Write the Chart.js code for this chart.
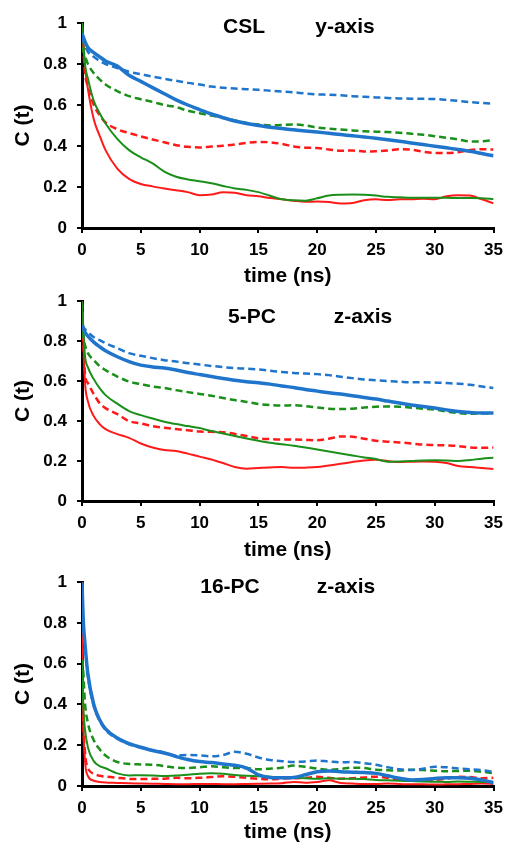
<!DOCTYPE html>
<html>
<head>
<meta charset="utf-8">
<script src="https://cdn.jsdelivr.net/npm/chart.js@4.4.1/dist/chart.umd.min.js"></script>
<style>
  body { margin: 0; background: #fff; }
  #wrap { position: relative; width: 510px; height: 843px; overflow: hidden; }
  .panel { position: absolute; left: 0; }
</style>
</head>
<body>
<div id="wrap">
  <canvas id="c1" class="panel" width="510" height="287" style="top:0px"></canvas>
  <canvas id="c2" class="panel" width="510" height="280" style="top:281px"></canvas>
  <canvas id="c3" class="panel" width="510" height="281" style="top:562px"></canvas>
</div>
<script>
// time axis (ns)
var timeA = [0, 0.25, 0.5, 1, 1.5, 2, 3, 4, 5, 6, 7, 8, 9, 10, 11, 12, 13, 14, 15, 16, 17, 18, 19, 20,
             21, 22, 23, 24, 25, 26, 27, 28, 29, 30, 31, 32, 33, 34, 35];
var timeB = [0, 0.1, 0.25, 0.5, 1, 1.5, 2, 3, 4, 5, 6, 7, 8, 9, 10, 11, 12, 13, 14, 15, 16, 17, 18, 19, 20,
             21, 22, 23, 24, 25, 26, 27, 28, 29, 30, 31, 32, 33, 34, 35];

var xTicks = [0, 5, 10, 15, 20, 25, 30, 35];
var yTicks = [0, 0.2, 0.4, 0.6, 0.8, 1];

// CSL  y-axis
var cslBlueSolid = [0.95, 0.91, 0.88, 0.855, 0.835, 0.815, 0.79, 0.745, 0.715, 0.685, 0.655, 0.625, 0.60, 0.578,
  0.556, 0.538, 0.522, 0.51, 0.50, 0.492, 0.485, 0.479, 0.473, 0.468, 0.462, 0.456, 0.45, 0.444, 0.438,
  0.431, 0.423, 0.415, 0.407, 0.399, 0.391, 0.383, 0.374, 0.363, 0.352];
var cslBlueDash = [0.93, 0.89, 0.86, 0.835, 0.815, 0.80, 0.78, 0.762, 0.75, 0.738, 0.728, 0.718, 0.708, 0.70,
  0.69, 0.684, 0.68, 0.677, 0.674, 0.67, 0.666, 0.662, 0.656, 0.652, 0.65, 0.647, 0.643, 0.64, 0.637,
  0.634, 0.632, 0.631, 0.63, 0.629, 0.625, 0.62, 0.614, 0.61, 0.606];
var cslGreenDash = [0.88, 0.84, 0.80, 0.755, 0.725, 0.70, 0.668, 0.643, 0.628, 0.615, 0.60, 0.59, 0.572, 0.56,
  0.549, 0.538, 0.525, 0.512, 0.505, 0.50, 0.503, 0.505, 0.50, 0.49, 0.485, 0.48, 0.476, 0.472, 0.47,
  0.468, 0.465, 0.46, 0.455, 0.448, 0.44, 0.432, 0.422, 0.423, 0.43];
var cslGreenSolid = [1.0, 0.80, 0.73, 0.62, 0.56, 0.51, 0.435, 0.38, 0.345, 0.315, 0.275, 0.25, 0.237, 0.228,
  0.218, 0.205, 0.193, 0.186, 0.175, 0.157, 0.14, 0.135, 0.133, 0.145, 0.158, 0.162, 0.163, 0.162, 0.158,
  0.152, 0.15, 0.148, 0.148, 0.147, 0.147, 0.146, 0.146, 0.145, 0.142];
var cslRedDash = [1.0, 0.76, 0.69, 0.60, 0.55, 0.515, 0.482, 0.463, 0.447, 0.432, 0.418, 0.404, 0.396, 0.393,
  0.397, 0.401, 0.407, 0.415, 0.42, 0.418, 0.41, 0.398, 0.392, 0.39, 0.383, 0.377, 0.378, 0.373, 0.374,
  0.378, 0.384, 0.382, 0.372, 0.366, 0.366, 0.37, 0.38, 0.384, 0.383];
var cslRedSolid = [1.0, 0.79, 0.68, 0.53, 0.45, 0.38, 0.29, 0.24, 0.215, 0.203, 0.193, 0.184, 0.175, 0.16,
  0.163, 0.175, 0.172, 0.16, 0.155, 0.146, 0.14, 0.133, 0.128, 0.129, 0.127, 0.12, 0.122, 0.135, 0.14,
  0.136, 0.14, 0.14, 0.143, 0.14, 0.155, 0.16, 0.158, 0.14, 0.12];

// 5-PC  z-axis
var pc5BlueSolid = [0.88, 0.845, 0.825, 0.795, 0.772, 0.752, 0.722, 0.698, 0.68, 0.671, 0.666, 0.656, 0.643, 0.633,
  0.623, 0.613, 0.604, 0.597, 0.592, 0.585, 0.576, 0.568, 0.558, 0.55, 0.542, 0.535, 0.527, 0.518, 0.51,
  0.50, 0.49, 0.481, 0.473, 0.465, 0.456, 0.448, 0.443, 0.44, 0.44];
var pc5BlueDash = [0.88, 0.86, 0.845, 0.82, 0.805, 0.79, 0.765, 0.74, 0.727, 0.715, 0.705, 0.698, 0.69, 0.683,
  0.676, 0.67, 0.665, 0.662, 0.658, 0.652, 0.646, 0.641, 0.638, 0.635, 0.63, 0.622, 0.615, 0.608, 0.604,
  0.60, 0.597, 0.594, 0.594, 0.593, 0.59, 0.587, 0.582, 0.573, 0.565];
var pc5GreenDash = [0.85, 0.78, 0.74, 0.705, 0.675, 0.655, 0.623, 0.598, 0.585, 0.573, 0.566, 0.555, 0.545, 0.536,
  0.527, 0.516, 0.505, 0.496, 0.486, 0.48, 0.478, 0.479, 0.475, 0.468, 0.462, 0.46, 0.462, 0.468, 0.472,
  0.473, 0.472, 0.467, 0.462, 0.457, 0.448, 0.44, 0.437, 0.438, 0.44];
var pc5GreenSolid = [1.0, 0.73, 0.67, 0.61, 0.565, 0.53, 0.487, 0.45, 0.43, 0.413, 0.397, 0.385, 0.375, 0.365,
  0.35, 0.338, 0.325, 0.313, 0.302, 0.292, 0.284, 0.277, 0.268, 0.258, 0.248, 0.238, 0.228, 0.218, 0.21,
  0.197, 0.198, 0.20, 0.203, 0.204, 0.203, 0.20, 0.205, 0.212, 0.216];
var pc5RedDash = [1.0, 0.64, 0.59, 0.535, 0.49, 0.465, 0.435, 0.40, 0.388, 0.375, 0.367, 0.36, 0.354, 0.348,
  0.346, 0.344, 0.336, 0.325, 0.314, 0.31, 0.308, 0.308, 0.306, 0.304, 0.312, 0.323, 0.322, 0.312, 0.302,
  0.297, 0.293, 0.288, 0.282, 0.28, 0.278, 0.275, 0.268, 0.266, 0.268];
var pc5RedSolid = [1.0, 0.60, 0.50, 0.425, 0.385, 0.36, 0.335, 0.316, 0.288, 0.268, 0.255, 0.25, 0.237, 0.222,
  0.208, 0.19, 0.17, 0.162, 0.165, 0.168, 0.17, 0.166, 0.167, 0.17, 0.178, 0.186, 0.195, 0.203, 0.206,
  0.20, 0.195, 0.197, 0.198, 0.197, 0.19, 0.175, 0.17, 0.165, 0.16];

// 16-PC  z-axis
var pc16BlueSolid = [1.0, 0.82, 0.70, 0.55, 0.40, 0.325, 0.28, 0.235, 0.208, 0.19, 0.174, 0.162, 0.145, 0.13, 0.12,
  0.115, 0.108, 0.102, 0.088, 0.055, 0.042, 0.04, 0.042, 0.055, 0.07, 0.074, 0.07, 0.068, 0.066, 0.062,
  0.05, 0.038, 0.03, 0.032, 0.037, 0.04, 0.04, 0.038, 0.03, 0.016];
var pc16BlueDash = [1.0, 0.80, 0.69, 0.54, 0.39, 0.32, 0.275, 0.232, 0.205, 0.188, 0.175, 0.165, 0.15, 0.152, 0.15,
  0.146, 0.152, 0.168, 0.158, 0.14, 0.128, 0.122, 0.118, 0.12, 0.125, 0.12, 0.116, 0.118, 0.112, 0.104,
  0.092, 0.082, 0.078, 0.085, 0.094, 0.092, 0.086, 0.082, 0.078, 0.07];
var pc16GreenDash = [0.62, 0.57, 0.41, 0.31, 0.225, 0.18, 0.15, 0.118, 0.108, 0.106, 0.104, 0.098, 0.09, 0.088, 0.092,
  0.097, 0.092, 0.088, 0.088, 0.082, 0.085, 0.09, 0.10, 0.094, 0.085, 0.08, 0.084, 0.09, 0.088, 0.08,
  0.077, 0.076, 0.08, 0.078, 0.075, 0.072, 0.074, 0.075, 0.07, 0.062];
var pc16GreenSolid = [0.60, 0.40, 0.28, 0.19, 0.122, 0.098, 0.087, 0.062, 0.052, 0.053, 0.052, 0.049, 0.051, 0.055, 0.06,
  0.062, 0.06, 0.054, 0.05, 0.048, 0.045, 0.042, 0.04, 0.038, 0.036, 0.038, 0.036, 0.036, 0.034, 0.03,
  0.028, 0.026, 0.024, 0.022, 0.021, 0.02, 0.022, 0.021, 0.02, 0.02];
var pc16RedDash = [1.0, 0.38, 0.17, 0.09, 0.06, 0.05, 0.046, 0.04, 0.035, 0.034, 0.035, 0.036, 0.04, 0.038, 0.04,
  0.044, 0.048, 0.045, 0.04, 0.035, 0.033, 0.036, 0.038, 0.04, 0.045, 0.04, 0.036, 0.038, 0.042, 0.046,
  0.04, 0.032, 0.03, 0.028, 0.03, 0.036, 0.045, 0.044, 0.038, 0.04];
var pc16RedSolid = [1.0, 0.37, 0.13, 0.05, 0.026, 0.02, 0.017, 0.015, 0.013, 0.012, 0.011, 0.01, 0.009, 0.009, 0.01,
  0.01, 0.009, 0.009, 0.01, 0.011, 0.012, 0.014, 0.02, 0.016, 0.02, 0.028, 0.015, 0.012, 0.01, 0.01,
  0.012, 0.01, 0.008, 0.008, 0.007, 0.008, 0.009, 0.01, 0.012, 0.01];

var BLUE = '#1f75cb', GREEN = '#1a8f1a', RED = '#ff1a1a';
var FONT = '"Liberation Sans", Arial, sans-serif';

function pts(t, v) {
  return v.map(function (y, i) { return {x: t[i], y: y}; });
}

function series(t, bs, bd, gd, gs, rd, rs) {
  // first in list is drawn on top
  return [
    {data: pts(t, bs), borderColor: BLUE, borderWidth: 3.5},
    {data: pts(t, bd), borderColor: BLUE, borderWidth: 2.5, borderDash: [7, 4]},
    {data: pts(t, gd), borderColor: GREEN, borderWidth: 2.5, borderDash: [7, 4]},
    {data: pts(t, gs), borderColor: GREEN, borderWidth: 2},
    {data: pts(t, rd), borderColor: RED, borderWidth: 2.5, borderDash: [7, 4]},
    {data: pts(t, rs), borderColor: RED, borderWidth: 2}
  ];
}

// panel header text ("CSL   y-axis")
var headerPlugin = {
  id: 'header',
  afterDraw: function (chart, args, opts) {
    var ctx = chart.ctx;
    ctx.save();
    ctx.font = 'bold 21px ' + FONT;
    ctx.fillStyle = '#000';
    ctx.textAlign = 'center';
    ctx.textBaseline = 'alphabetic';
    opts.items.forEach(function (it) { ctx.fillText(it.text, it.x, it.y); });
    ctx.restore();
  }
};

function makeChart(id, datasets, padTop, xHeight, header) {
  return new Chart(document.getElementById(id), {
    type: 'line',
    data: {datasets: datasets},
    plugins: [headerPlugin],
    options: {
      responsive: false,
      animation: false,
      layout: {padding: {left: 0, right: 14, top: padTop, bottom: 0}},
      elements: {point: {radius: 0}, line: {cubicInterpolationMode: 'monotone', fill: false}},
      plugins: {legend: {display: false}, tooltip: {enabled: false}, header: {items: header}},
      scales: {
        x: {
          type: 'linear', min: 0, max: 35,
          afterBuildTicks: function (s) { s.ticks = xTicks.map(function (v) { return {value: v}; }); },
          afterFit: function (s) { s.height = xHeight; },
          grid: {drawOnChartArea: false, drawTicks: true, tickLength: 5, color: '#000', lineWidth: 2},
          border: {display: true, color: '#000', width: 3},
          ticks: {color: '#000', padding: 7, maxRotation: 0, font: {family: FONT, size: 17, weight: 'bold'}},
          title: {display: true, text: 'time (ns)', color: '#000', padding: 0,
                  font: {family: FONT, size: 21, weight: 'bold', lineHeight: 1}}
        },
        y: {
          type: 'linear', min: 0, max: 1,
          afterBuildTicks: function (s) { s.ticks = yTicks.map(function (v) { return {value: v}; }); },
          afterFit: function (s) { s.width = 82; },
          grid: {drawOnChartArea: false, drawTicks: true, tickLength: 5, color: '#000', lineWidth: 2},
          border: {display: true, color: '#000', width: 3},
          ticks: {color: '#000', padding: 10, font: {family: FONT, size: 17, weight: 'bold'},
                  callback: function (v) { return String(Number(v.toFixed(1))); }},
          title: {display: true, text: 'C (t)', color: '#000', padding: {top: 13, bottom: 0},
                  font: {family: FONT, size: 21, weight: 'bold', lineHeight: 1}}
        }
      }
    }
  });
}

makeChart('c1', series(timeA, cslBlueSolid, cslBlueDash, cslGreenDash, cslGreenSolid, cslRedDash, cslRedSolid),
  23, 59, [{text: 'CSL', x: 244, y: 33}, {text: 'y-axis', x: 345, y: 33}]);
makeChart('c2', series(timeA, pc5BlueSolid, pc5BlueDash, pc5GreenDash, pc5GreenSolid, pc5RedDash, pc5RedSolid),
  19, 60, [{text: '5-PC', x: 252, y: 42}, {text: 'z-axis', x: 363, y: 42}]);
makeChart('c3', series(timeB, pc16BlueSolid, pc16BlueDash, pc16GreenDash, pc16GreenSolid, pc16RedDash, pc16RedSolid),
  19, 57, [{text: '16-PC', x: 230, y: 31}, {text: 'z-axis', x: 346, y: 31}]);
</script>
</body>
</html>
